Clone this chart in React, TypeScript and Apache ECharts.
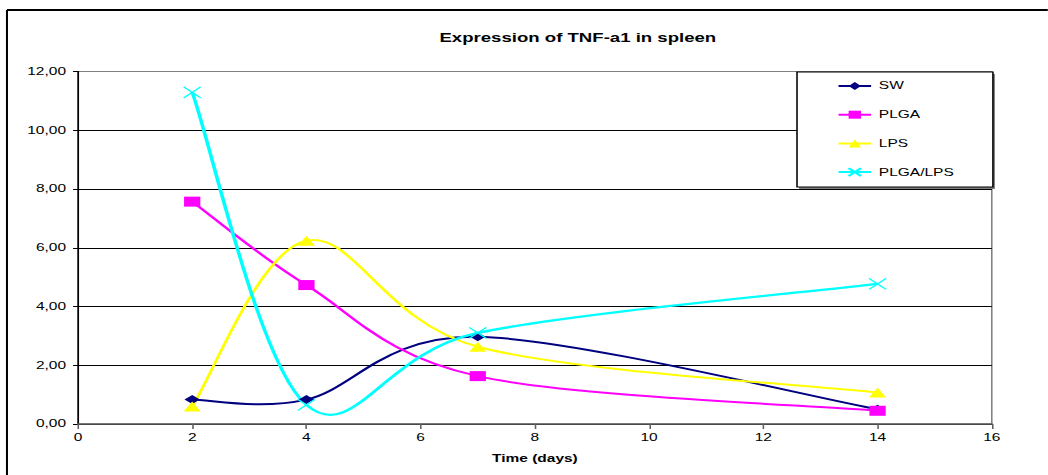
import React, { useEffect, useRef } from "react";
import * as echarts from "echarts";

// ---- data ----
const days = [2, 4, 7, 14];
const swValues = [0.83, 0.83, 2.97, 0.5];
const plgaValues = [7.57, 4.73, 1.63, 0.45];
const lpsValues = [0.6, 6.24, 2.63, 1.07];
const plgaLpsValues = [11.29, 0.65, 3.1, 4.77];
const seriesNames = ["SW", "PLGA", "LPS", "PLGA/LPS"];
const seriesColors = ["#000080", "#ff00ff", "#ffff00", "#00ffff"];
const titleText = "Expression of TNF-a1 in spleen";
const xAxisName = "Time (days)";

// The original picture is a horizontally stretched Excel chart.
const SX = 1.55;
const W = 1048 / SX;
const H = 475;

const FONT = "'Liberation Sans', Arial, sans-serif";

function pairs(vals: number[]) {
  return days.map((d, i) => [d, vals[i]]);
}

// Excel-like smoothed curve (Catmull-Rom style Bezier), drawn through the axis scales.
function curveSeries(vals: number[], color: string, width: number) {
  return {
    type: "custom",
    data: pairs(vals),
    z: 1,
    silent: true,
    clip: true,
    renderItem: (params: any, api: any) => {
      if (params.dataIndex !== 0) return null;
      const pts = days.map((d, i) => api.coord([d, vals[i]]));
      let d = `M${pts[0][0]},${pts[0][1]}`;
      for (let i = 0; i < pts.length - 1; i++) {
        const p0 = pts[Math.max(i - 1, 0)];
        const p1 = pts[i];
        const p2 = pts[i + 1];
        const p3 = pts[Math.min(i + 2, pts.length - 1)];
        const c1x = p1[0] + (p2[0] - p0[0]) / 6;
        const c1y = p1[1] + (p2[1] - p0[1]) / 6;
        const c2x = p2[0] - (p3[0] - p1[0]) / 6;
        const c2y = p2[1] - (p3[1] - p1[1]) / 6;
        d += ` C${c1x},${c1y} ${c2x},${c2y} ${p2[0]},${p2[1]}`;
      }
      return {
        type: "path",
        shape: { pathData: d },
        style: { fill: "none", stroke: color, lineWidth: width },
      };
    },
  };
}

export default function App() {
  const ref = useRef<HTMLDivElement>(null);
  useEffect(() => {
    if (!ref.current) return;
    const chart = echarts.init(ref.current, undefined, { renderer: "svg" });
    const lineW = 2;
    const markerSeries = (idx: number, vals: number[], symbol: string, size: number[], extra: any = {}) => ({
      name: seriesNames[idx],
      type: "line",
      data: pairs(vals),
      z: 2,
      symbol,
      symbolSize: size,
      lineStyle: { color: seriesColors[idx], width: lineW, opacity: 0 },
      itemStyle: { color: seriesColors[idx], ...extra },
    });
    chart.setOption({
      animation: false,
      backgroundColor: "#fff",
      textStyle: { fontFamily: FONT },
      title: {
        text: titleText,
        left: 278.5,
        top: 27,
        textStyle: { fontFamily: FONT, fontSize: 12, fontWeight: "bold", color: "#000" },
      },
      grid: {
        left: 50.3,
        right: W - 640,
        top: 71.5,
        bottom: H - 424,
        show: true,
        borderColor: "#808080",
        borderWidth: 1,
        backgroundColor: "transparent",
      },
      legend: {
        orient: "vertical",
        left: 540,
        top: 81,
        padding: 0,
        itemWidth: 21,
        itemHeight: 10,
        itemGap: 18.7,
        data: seriesNames.map((n, i) => ({
          name: n,
          lineStyle: { color: seriesColors[i], width: 2, opacity: 1 },
        })),
        textStyle: { fontFamily: FONT, fontSize: 10, color: "#000" },
      },
      xAxis: {
        type: "value",
        min: 0,
        max: 16,
        interval: 2,
        name: xAxisName,
        nameLocation: "middle",
        nameGap: 30,
        nameTextStyle: { fontFamily: FONT, fontSize: 10, fontWeight: "bold", color: "#000" },
        axisLine: { show: true, lineStyle: { color: "#606060", width: 1.5 } },
        axisTick: { show: true, inside: false, length: 5, lineStyle: { color: "#606060", width: 1 } },
        axisLabel: { fontFamily: FONT, fontSize: 10, color: "#000", margin: 9 },
        splitLine: { show: false },
      },
      yAxis: {
        type: "value",
        min: 0,
        max: 12,
        interval: 2,
        axisLine: { show: true, lineStyle: { color: "#000", width: 1 } },
        axisTick: { show: true, inside: false, length: 3.2, lineStyle: { color: "#000", width: 1 } },
        axisLabel: {
          fontFamily: FONT,
          fontSize: 10,
          color: "#000",
          margin: 7.7,
          formatter: (v: number) => v.toFixed(2).replace(".", ","),
        },
        splitLine: {
          show: true,
          lineStyle: {
            color: ["#000", "#000", "#000", "#000", "#000", "#000", "#808080"],
            width: 1,
          },
        },
      },
      graphic: [
        {
          type: "line",
          z: 10,
          shape: { x1: 4.5, y1: 10, x2: 4.5, y2: H + 5 },
          style: { stroke: "#000", lineWidth: 1.3 },
        },
        {
          type: "line",
          z: 10,
          shape: { x1: 4.5, y1: 10, x2: W + 5, y2: 10 },
          style: { stroke: "#000", lineWidth: 2 },
        },
        {
          type: "rect",
          z: 3,
          shape: { x: 515.5, y: 74, width: 126.4, height: 115 },
          style: { fill: "#808080" },
        },
        {
          type: "rect",
          z: 3,
          shape: { x: 514.2, y: 72, width: 126.4, height: 115 },
          style: { fill: "#fff", stroke: "#000", lineWidth: 1 },
        },
      ],
      series: [
        curveSeries(swValues, seriesColors[0], lineW),
        curveSeries(plgaValues, seriesColors[1], lineW),
        curveSeries(lpsValues, seriesColors[2], lineW),
        curveSeries(plgaLpsValues, seriesColors[3], 2.3),
        markerSeries(0, swValues, "diamond", [10, 9]),
        markerSeries(1, plgaValues, "rect", [10.5, 10]),
        markerSeries(2, lpsValues, "triangle", [11, 10]),
        markerSeries(3, plgaLpsValues, "path://M0,0L10,10M10,0L0,10", [11, 11], {
          borderColor: seriesColors[3],
          borderWidth: 1.2,
        }),
      ],
    });
    return () => chart.dispose();
  }, []);
  return (
    <div
      ref={ref}
      style={{
        position: "absolute",
        left: 0,
        top: 0,
        width: W + "px",
        height: H + "px",
        transform: `scaleX(${SX})`,
        transformOrigin: "0 0",
        background: "#fff",
      }}
    />
  );
}
